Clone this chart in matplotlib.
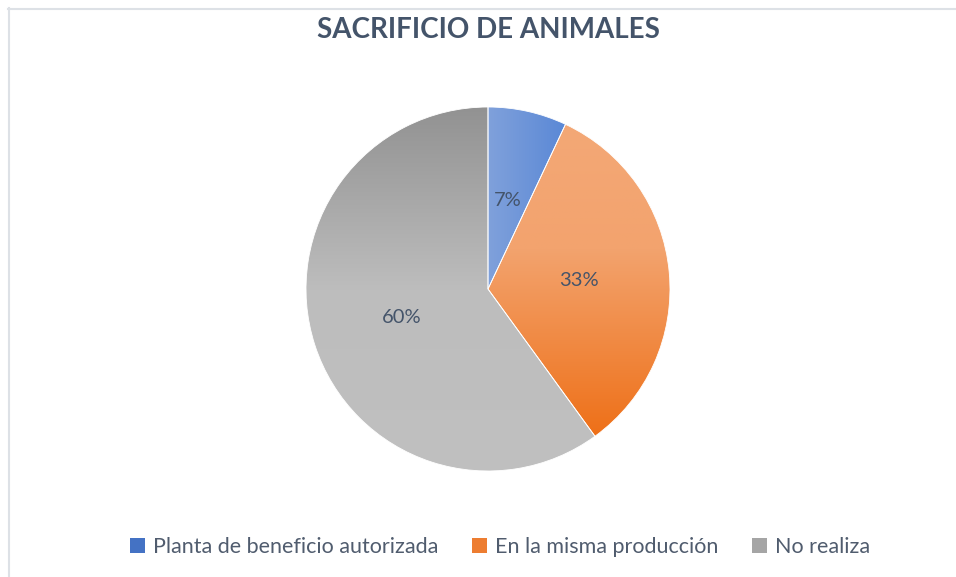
import matplotlib
matplotlib.use('Agg')
import matplotlib.pyplot as plt
import numpy as np
from matplotlib.colors import LinearSegmentedColormap
from matplotlib.patches import Rectangle
from matplotlib.lines import Line2D

plt.rcParams['font.family'] = ['Lato', 'DejaVu Sans']

# Data
labels = ['Planta de beneficio autorizada', 'En la misma producción', 'No realiza']
values = [7, 33, 60]
solid_colors = ['#4472C4', '#ED7D31', '#A5A5A5']
title = 'SACRIFICIO DE ANIMALES'

# gradient stops per slice: (direction, [(pos, color), ...])
gradients = [
    ('h', [(0.0, '#80A1DB'), (1.0, '#5A88D6')]),
    ('v', [(0.0, '#F3A876'), (0.4, '#F3A36E'), (1.0, '#EE7018')]),
    ('v', [(0.0, '#929292'), (0.5, '#BDBDBD'), (1.0, '#C0C0C0')]),
]

W, H = 956, 577
fig = plt.figure(figsize=(W / 100, H / 100), dpi=100)

# light chart border (top and left)
fig.add_artist(Line2D([8 / W, 1], [1 - 8.5 / H, 1 - 8.5 / H], color='#DDE1E6', lw=1.5))
fig.add_artist(Line2D([8.5 / W, 8.5 / W], [0, 1 - 8 / H], color='#DDE1E6', lw=1.5))

cx, cy, r = 488, 289, 182
ax = fig.add_axes([(cx - r) / W, (H - cy - r) / H, 2 * r / W, 2 * r / H])

wedges, texts, autotexts = ax.pie(
    values, colors=solid_colors, startangle=90, counterclock=False,
    autopct='%1.0f%%', pctdistance=0.5,
    wedgeprops=dict(edgecolor='white', linewidth=0.6),
    textprops=dict(color='#44546A', fontsize=14.5))

for w, (direction, stops) in zip(wedges, gradients):
    cmap = LinearSegmentedColormap.from_list('g', stops)
    ext = w.get_path().get_extents()
    t = np.linspace(0, 1, 256)
    if direction == 'v':
        img = np.tile(t[:, None], (1, 2))
    else:
        img = np.tile(t[None, :], (2, 1))
    im = ax.imshow(img, cmap=cmap, vmin=0, vmax=1, origin='upper',
                   extent=[ext.x0, ext.x1, ext.y0, ext.y1],
                   aspect='auto', interpolation='bilinear', zorder=1)
    im.set_clip_path(w)
    w.set_zorder(2)
    w.set_facecolor('none')

for t in autotexts:
    t.set_zorder(5)

ax.set_xlim(-1, 1)
ax.set_ylim(-1, 1)
ax.set_aspect('equal')
ax.axis('off')

fig.text(488 / W, 1 - 30 / H, title, ha='center', va='center',
         fontsize=20, fontweight='bold', color='#44546A')

handles = [Rectangle((0, 0), 1, 1, facecolor=c, edgecolor='none') for c in solid_colors]
fig.legend(handles, labels, loc='center', bbox_to_anchor=(500 / W, 1 - 547 / H),
           ncol=3, frameon=False, fontsize=15.5, handlelength=0.7, handleheight=0.7,
           handletextpad=0.33, columnspacing=1.6, labelcolor='#505C6E')

fig.savefig('out.png', dpi=100)
